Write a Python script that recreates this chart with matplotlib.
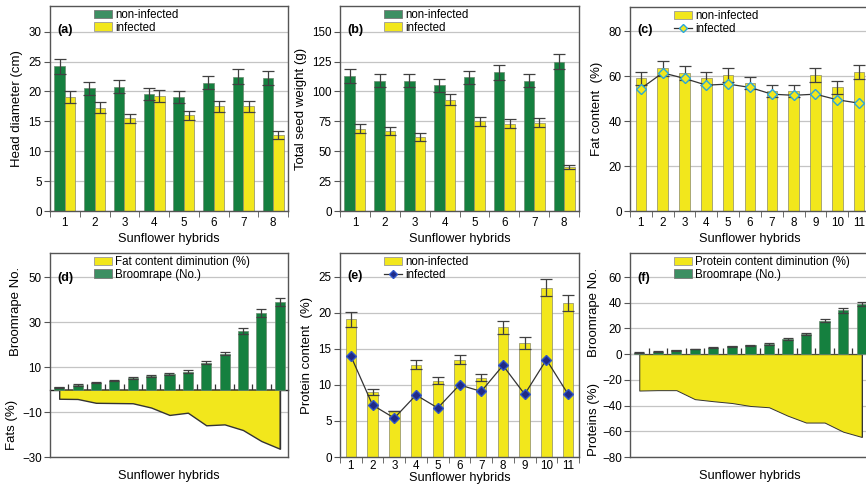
import numpy as np
import matplotlib
matplotlib.use('Agg')
import matplotlib.pyplot as plt
from matplotlib.patches import Patch
from matplotlib.lines import Line2D

plt.rcParams['font.family'] = ['Liberation Sans', 'DejaVu Sans']
plt.rcParams['axes.unicode_minus'] = True

GREEN = '#15803f'
GREEN_LEG = '#3d8f63'
YELLOW = '#f2e71c'
EDGE = '#8a8a6a'
ERR = '#404040'
GRID = '#c4c4c4'
FRAME = '#555555'

# (a) head diameter (cm)
head_non = [24.2, 20.5, 20.8, 19.5, 19.0, 21.5, 22.5, 22.3]
head_non_err = [1.2, 1.1, 1.1, 1.0, 1.0, 1.1, 1.2, 1.2]
head_inf = [19.0, 17.3, 15.5, 19.3, 16.0, 17.5, 17.5, 12.7]
head_inf_err = [1.0, 0.9, 0.8, 1.0, 0.8, 0.9, 0.9, 0.7]

# (b) total seed weight (g)
seed_non = [113, 109, 109, 105, 112, 116, 109, 125]
seed_non_err = [5.5, 5.5, 5.5, 5.5, 5.5, 6.0, 5.5, 6.5]
seed_inf = [69, 67, 62, 93, 75, 73, 74, 37]
seed_inf_err = [3.5, 3.5, 3.2, 4.5, 3.8, 3.8, 3.6, 1.8]

# (c) fat content (%)
fat_non = [59, 63.5, 61.5, 59, 60.5, 57, 53.5, 53.5, 60.5, 55, 62]
fat_non_err = [3, 3.2, 3.1, 3, 3, 2.8, 2.7, 2.7, 3, 2.8, 3.1]
fat_inf = [54.5, 61.5, 59, 56, 56.5, 55, 52, 51.5, 52, 49.5, 48]

# (d) / (f) broomrape count and diminution
broomrape = [1, 2, 3, 4, 5, 6, 7, 8, 12, 16, 26, 34, 39]
broomrape_err = [0.3, 0.3, 0.3, 0.3, 0.4, 0.4, 0.4, 0.5, 0.6, 0.8, 1.3, 1.6, 1.8]
fat_dimin = [-4.1, -4.2, -5.9, -6.0, -6.1, -8.0, -11.3, -10.3, -15.9, -15.5, -18.0, -22.9, -26.3]
prot_dimin = [-28.3, -28.0, -28.0, -35.0, -36.6, -38.0, -40.3, -41.3, -47.8, -53.2, -53.2, -60.3, -64.4]

# (e) protein content (%)
prot_non = [19.1, 9.0, 6.4, 12.8, 10.6, 13.5, 11.0, 18.0, 15.8, 23.5, 21.4]
prot_non_err = [1.0, 0.4, 0.0, 0.6, 0.5, 0.6, 0.5, 0.9, 0.8, 1.2, 1.1]
prot_inf = [14.0, 7.2, 5.4, 8.6, 6.8, 10.0, 9.1, 12.7, 8.7, 13.5, 8.7]

W, H = 866, 486
fig = plt.figure(figsize=(W / 100, H / 100), dpi=100)

XLAB = 9.2
YLAB = 9.5
TICK = 8.4
LEG = dict(loc='upper left', bbox_to_anchor=(0.15, 1.025), frameon=False,
           fontsize=8.3, handlelength=1.55, handleheight=0.7,
           handletextpad=0.3, labelspacing=0.05, borderpad=0.2)


def make_ax(x0, y0, x1, y1):
    ax = fig.add_axes([x0 / W, 1 - y1 / H, (x1 - x0) / W, (y1 - y0) / H])
    for s in ax.spines.values():
        s.set_color(FRAME)
        s.set_linewidth(1.0)
    ax.set_axisbelow(True)
    ax.yaxis.grid(True, color=GRID, linewidth=0.9)
    ax.tick_params(axis='y', labelsize=TICK, length=4, color=FRAME, pad=2)
    return ax


def hybrid_ticks(ax, n):
    ax.set_xticks(np.arange(1, n + 1))
    ax.set_xticks(np.arange(0.5, n + 1), minor=True)
    ax.tick_params(axis='x', which='major', length=0, labelsize=TICK, pad=4)
    ax.tick_params(axis='x', which='minor', length=4, color=FRAME)


def panel_label(ax, s, y=0.885):
    ax.text(0.03, y, s, transform=ax.transAxes, fontsize=9,
            fontweight='bold', va='center')


def err_kw():
    return dict(ecolor=ERR, elinewidth=0.9, capsize=4, capthick=0.9)


def grouped(ax, non, non_err, inf, inf_err, ylim, yticks, ylabel, label):
    x = np.arange(1, len(non) + 1)
    w = 0.35
    ax.bar(x - w / 2, non, w, yerr=non_err, color=GREEN, edgecolor='#6a8a70',
           linewidth=0.5, error_kw=err_kw())
    ax.bar(x + w / 2, inf, w, yerr=inf_err, color=YELLOW, edgecolor=EDGE,
           linewidth=0.5, error_kw=err_kw())
    ax.set_xlim(0.55, len(non) + 0.45)
    ax.set_ylim(*ylim)
    ax.set_yticks(yticks)
    hybrid_ticks(ax, len(non))
    ax.set_ylabel(ylabel, fontsize=YLAB, labelpad=4)
    ax.set_xlabel('Sunflower hybrids', fontsize=XLAB, labelpad=3)
    handles = [Patch(facecolor=GREEN_LEG, edgecolor='#777777', linewidth=0.6),
               Patch(facecolor=YELLOW, edgecolor='#999999', linewidth=0.6)]
    ax.legend(handles, ['non-infected', 'infected'], **LEG)
    panel_label(ax, label)


def bar_line(ax, non, non_err, inf, ylim, yticks, ylabel, label, mface, medge):
    x = np.arange(1, len(non) + 1)
    ax.bar(x, non, 0.48, yerr=non_err, color=YELLOW, edgecolor=EDGE,
           linewidth=0.5, error_kw=err_kw())
    ax.plot(x, inf, color='#333333', linewidth=0.9, marker='D', markersize=5,
            markerfacecolor=mface, markeredgecolor=medge, markeredgewidth=1.0)
    ax.set_xlim(0.53, len(non) + 0.47)
    ax.set_ylim(*ylim)
    ax.set_yticks(yticks)
    hybrid_ticks(ax, len(non))
    ax.set_ylabel(ylabel, fontsize=YLAB, labelpad=4)
    handles = [Patch(facecolor=YELLOW, edgecolor='#999999', linewidth=0.6),
               Line2D([], [], color='#333333', linewidth=0.9, marker='D',
                      markersize=4.5, markerfacecolor=mface,
                      markeredgecolor=medge)]
    ax.legend(handles, ['non-infected', 'infected'], **LEG)
    panel_label(ax, label)


def dimin(ax, dim, ylim, yticks, area_label, label, lw):
    x = np.arange(1, len(broomrape) + 1)
    ax.fill_between(x, dim, 0, color=YELLOW, edgecolor='#333333', linewidth=lw,
                    zorder=2)
    ax.vlines(x[-1], dim[-1], 0, color='#333333', linewidth=lw, zorder=2)
    ax.bar(x, broomrape, 0.55, yerr=broomrape_err, color=GREEN,
           edgecolor='#6a8a70', linewidth=0.5, zorder=3,
           error_kw=dict(ecolor=ERR, elinewidth=0.9, capsize=3.5, capthick=0.9))
    ax.set_xlim(0.5, len(broomrape) + 0.45)
    ax.set_ylim(*ylim)
    ax.set_yticks(yticks)
    ax.set_xticks([])
    ax.set_xlabel('Sunflower hybrids', fontsize=XLAB, labelpad=9)
    frac = (0 - ylim[0]) / (ylim[1] - ylim[0])
    sec = ax.secondary_xaxis(frac)
    sec.set_xticks(np.arange(1.5, len(broomrape), 1.0))
    sec.set_xticklabels([])
    sec.tick_params(direction='inout', length=9, width=0.9, color='#333333',
                    labelbottom=False, labeltop=False)
    sec.spines['bottom'].set_color('#222222')
    sec.spines['bottom'].set_linewidth(1.0)
    handles = [Patch(facecolor=YELLOW, edgecolor='#999999', linewidth=0.6),
               Patch(facecolor=GREEN_LEG, edgecolor='#777777', linewidth=0.6)]
    ax.legend(handles, [area_label, 'Broomrape (No.)'], **LEG)
    panel_label(ax, label, y=0.875)


# top row
ax_a = make_ax(50, 6, 288, 211)
grouped(ax_a, head_non, head_non_err, head_inf, head_inf_err, (0, 34.3),
        [0, 5, 10, 15, 20, 25, 30], 'Head diameter (cm)', '(a)')

ax_b = make_ax(340, 6, 579, 211)
grouped(ax_b, seed_non, seed_non_err, seed_inf, seed_inf_err, (0, 171.5),
        [0, 25, 50, 75, 100, 125, 150], 'Total seed weight (g)', '(b)')

ax_c = make_ax(630, 7, 870, 211)
bar_line(ax_c, fat_non, fat_non_err, fat_inf, (0, 90.8), [0, 20, 40, 60, 80],
         'Fat content  (%)', '(c)', YELLOW, '#2aa7d9')
ax_c.set_xlabel('Sunflower hybrids', fontsize=XLAB, labelpad=3)

# bottom row
ax_d = make_ax(50, 253, 288, 457)
dimin(ax_d, fat_dimin, (-30, 60.7), [-30, -10, 10, 30, 50],
      'Fat content diminution (%)', '(d)', 1.0)
fig.text(16 / W, 1 - 311 / H, 'Broomrape No.', rotation=90, fontsize=YLAB,
         ha='center', va='center')
fig.text(12 / W, 1 - 425 / H, 'Fats (%)', rotation=90, fontsize=YLAB,
         ha='center', va='center')

ax_e = make_ax(340, 253, 579, 457)
bar_line(ax_e, prot_non, prot_non_err, prot_inf, (0, 28.3), [0, 5, 10, 15, 20, 25],
         'Protein content  (%)', '(e)', '#1f2a86', '#2f55c8')
ax_e.tick_params(axis='x', which='major', pad=2)
ax_e.set_xlabel('Sunflower hybrids', fontsize=XLAB, labelpad=0)

ax_f = make_ax(630, 253, 870, 457)
dimin(ax_f, prot_dimin, (-80, 78.7), [-80, -60, -40, -20, 0, 20, 40, 60],
      'Protein content diminution (%)', '(f)', 0.7)
fig.text(594 / W, 1 - 312 / H, 'Broomrape No.', rotation=90, fontsize=YLAB,
         ha='center', va='center')
fig.text(594 / W, 1 - 420 / H, 'Proteins (%)', rotation=90, fontsize=YLAB,
         ha='center', va='center')

fig.savefig('out.png', dpi=100)
